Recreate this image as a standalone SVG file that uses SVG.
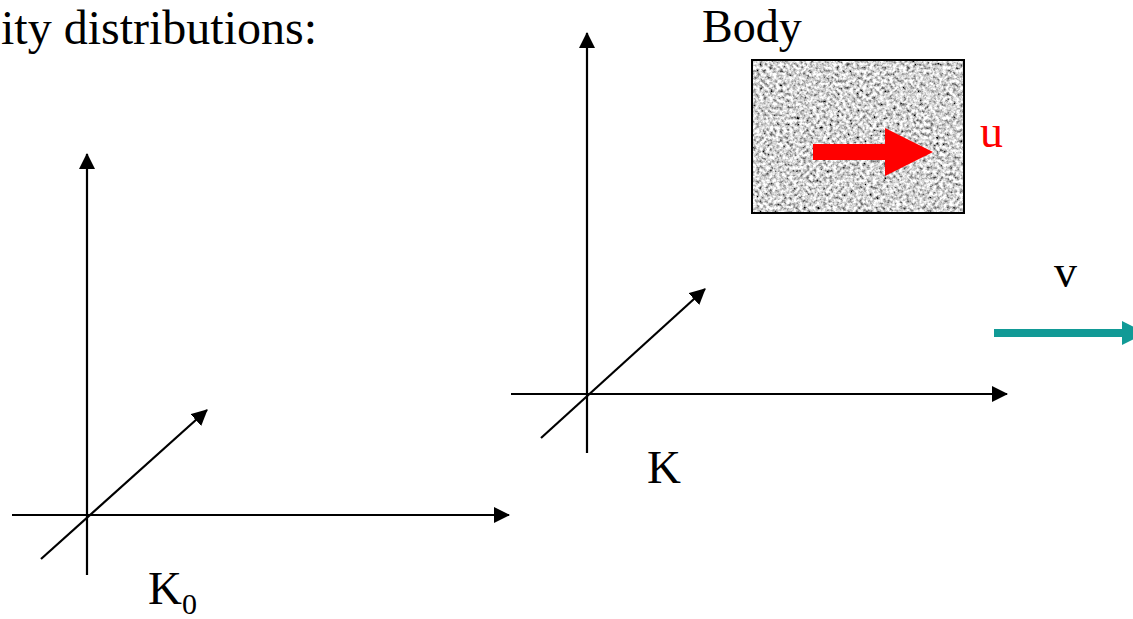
<svg xmlns="http://www.w3.org/2000/svg" width="1133" height="619" viewBox="0 0 1133 619">
<style>
.t{font-family:"Liberation Serif","Times New Roman",serif;fill:#000}
.ax{stroke:#000;stroke-width:2.2;fill:none}
</style>
<defs>
<marker id="ah" viewBox="0 0 16 16" refX="15" refY="8" markerWidth="16" markerHeight="16" markerUnits="userSpaceOnUse" orient="auto">
<path d="M0,0 L16,8 L0,16 Z" fill="#000"/>
</marker>
<filter id="noise" filterUnits="userSpaceOnUse" x="752" y="60" width="212" height="153">
<feTurbulence type="fractalNoise" baseFrequency="0.3" numOctaves="3" seed="7" result="n"/>
<feColorMatrix in="n" type="matrix" values="2.0 0 0 0 -0.34  2.0 0 0 0 -0.34  2.0 0 0 0 -0.34  0 0 0 0 1"/>
<feGaussianBlur stdDeviation="0.6"/>
</filter>
</defs>
<rect width="1133" height="619" fill="#fff"/>
<text class="t" x="1" y="44" font-size="48">ity distributions:</text>

<g id="frame-K0">
<line class="ax" x1="87" y1="575" x2="87" y2="154" marker-end="url(#ah)"/>
<line class="ax" x1="12" y1="515" x2="509" y2="515" marker-end="url(#ah)"/>
<line class="ax" x1="41" y1="559" x2="207" y2="410" marker-end="url(#ah)"/>
<text class="t" x="148" y="604" font-size="47">K<tspan font-size="30" dy="10">0</tspan></text>
</g>

<g id="frame-K">
<line class="ax" x1="587" y1="453" x2="587" y2="33" marker-end="url(#ah)"/>
<line class="ax" x1="511" y1="394" x2="1007" y2="394" marker-end="url(#ah)"/>
<line class="ax" x1="541" y1="438" x2="705" y2="289" marker-end="url(#ah)"/>
<text class="t" x="647" y="483" font-size="47">K</text>
</g>

<g id="body">
<rect x="752" y="60" width="212" height="153" fill="#aaa" filter="url(#noise)"/>
<rect x="752" y="60" width="212" height="153" fill="none" stroke="#000" stroke-width="2"/>
<text class="t" x="702" y="42" font-size="46">Body</text>
<path d="M813,144 L885,144 L885,128 L933,152 L885,176 L885,160 L813,160 Z" fill="#ff0000"/>
<text class="t" x="980" y="147" font-size="46" style="fill:#ff0000">u</text>
</g>

<g id="velocity">
<path d="M994,329 L1122,329 L1122,321 L1146,333 L1122,345 L1122,337 L994,337 Z" fill="#119a96"/>
<text class="t" x="1054" y="287" font-size="46">v</text>
</g>
</svg>
